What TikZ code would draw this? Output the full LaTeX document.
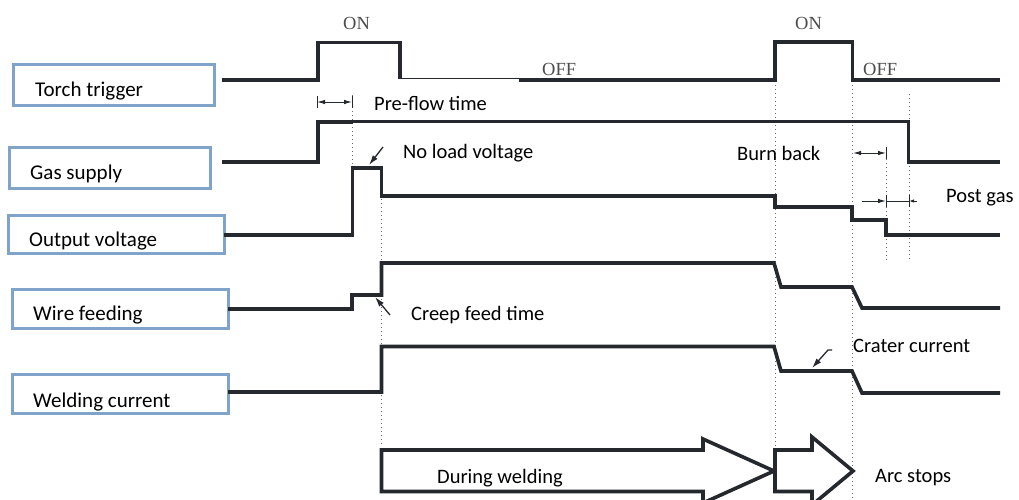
\documentclass[tikz,border=0pt]{standalone}
\usepackage{fontspec}
\setmainfont{Carlito}
\newfontfamily\onofffont{Liberation Serif}
\usetikzlibrary{arrows.meta}
\definecolor{sigc}{HTML}{25292E}
\definecolor{boxc}{HTML}{7FA3C9}
\definecolor{dotc}{HTML}{6A6A6A}
\begin{document}
\begin{tikzpicture}[x=1pt,y=-1pt,
  sig/.style={draw=sigc, line width=3.6pt, line join=miter},
  thinsig/.style={draw=sigc, line width=1.3pt},
  labbox/.style={draw=boxc, line width=2.6pt, anchor=north west, inner sep=0pt, rectangle},
  lbl/.style={anchor=base west, inner sep=0pt, font=\fontsize{21}{25}\selectfont},
  note/.style={anchor=base west, inner sep=0pt, font=\fontsize{20.5}{24}\selectfont},
  state/.style={anchor=base west, inner sep=0pt, font=\onofffont\fontsize{18.5}{22}\selectfont, text=black!70},
  guide/.style={draw=dotc, line width=0.8pt, dash pattern=on 1pt off 3pt},
  dimline/.style={draw=sigc, line width=1pt, {Latex[length=8pt,width=4.5pt]}-{Latex[length=8pt,width=4.5pt]}},
  tick/.style={draw=sigc, line width=1pt},
  pointer/.style={draw=sigc, line width=1.3pt, -{Latex[length=10pt,width=6pt]}},
  bigarrow/.style={draw=sigc, line width=3.6pt, fill=white, line join=miter}
]
\useasboundingbox (0,0) rectangle (1019,499);

% label boxes
\node[labbox, minimum width=201pt, minimum height=41pt] (bTorch) at (12,63) {};
\node[labbox, minimum width=201pt, minimum height=41pt] (bGas) at (8,146) {};
\node[labbox, minimum width=216pt, minimum height=38pt] (bOut) at (7,214) {};
\node[labbox, minimum width=216pt, minimum height=39pt] (bWire) at (11,288) {};
\node[labbox, minimum width=216pt, minimum height=39pt] (bWeld) at (11,373) {};
\node[lbl] (tTorch) at (35,96) {Torch trigger};
\node[lbl] (tGas) at (30,179) {Gas supply};
\node[lbl] (tOut) at (29,246) {Output voltage};
\node[lbl] (tWire) at (33,320) {Wire feeding};
\node[lbl] (tWeld) at (33,407) {Welding current};

% guide (dotted) lines
\coordinate (g1a) at (352,95);  \coordinate (g1b) at (352,164);
\coordinate (g2a) at (381.5,199); \coordinate (g2b) at (381.5,446);
\coordinate (g3a) at (775,85);  \coordinate (g3b) at (775,450);
\coordinate (g4a) at (852.5,85); \coordinate (g4b) at (852.5,499);
\coordinate (g5a) at (886,147); \coordinate (g5b) at (886,262);
\coordinate (g6a) at (909,94);  \coordinate (g6b) at (909,262);
\foreach \a/\b in {g1a/g1b,g2a/g2b,g3a/g3b,g4a/g4b,g5a/g5b,g6a/g6b}
  \draw[guide] (\a) -- (\b);

% torch trigger
\draw[sig] (222,80) -- (318,80) -- (318,42.5) -- (400,42.5) -- (400,79);
\draw[thinsig] (400,78.5) -- (520,78.5);
\draw[sig] (519,80) -- (775,80) -- (775,42) -- (852.5,42) -- (852.5,80) -- (1000,80);
% gas supply
\draw[sig] (222,162) -- (318,162) -- (318,122) -- (353,122);
\draw[draw=sigc, line width=2.4pt] (352,121.5) -- (520,121.5);
\draw[sig] (519,121.5) -- (908.5,121.5) -- (908.5,162) -- (1000,162);
% output voltage
\draw[sig] (224,235) -- (352.5,235) -- (352.5,168) -- (381.5,168) -- (381.5,196) -- (775,196) -- (775,207) -- (852,207) -- (852,220) -- (886,220) -- (886,235) -- (1000,235);
% wire feeding
\draw[sig] (228,309) -- (352,309) -- (352,295) -- (381.5,295) -- (381.5,263) -- (774,263) -- (781,287) -- (852,287) -- (862,308) -- (1000,308);
% welding current
\draw[sig] (228,392) -- (381.5,392) -- (381.5,346.5) -- (774,346.5) -- (781,371) -- (852,371) -- (862,393) -- (1000,393);

% state labels
\node[state] (on1) at (343,29) {ON};
\node[state] (off1) at (542,75) {OFF};
\node[state] (on2) at (795,29) {ON};
\node[state] (off2) at (863,75) {OFF};

% pre-flow dimension
\coordinate (pf1) at (317,102); \coordinate (pf2) at (352,102);
\draw[tick] (317,96) -- (317,108);
\draw[tick] (352,96) -- (352,108);
\draw[dimline] (pf1) -- (pf2);
\node[note] (tPre) at (374,110) {Pre-flow time};

% burn back dimension
\coordinate (bb1) at (853,153); \coordinate (bb2) at (886,153);
\draw[tick] (886,147) -- (886,159);
\draw[dimline] (bb1) -- (bb2);
\node[note] (tBurn) at (737,160) {Burn back};

% post gas dimension
\coordinate (pg1) at (862,201); \coordinate (pg2) at (886,201);
\coordinate (pg3) at (917,201); \coordinate (pg4) at (909,201);
\draw[tick] (886,195) -- (886,207);
\draw[tick] (909,195) -- (909,207);
\draw[draw=sigc, line width=1pt, -{Latex[length=8pt,width=4.5pt]}] (pg1) -- (pg2);
\draw[draw=sigc, line width=1pt] (pg2) -- (pg4);
\draw[draw=sigc, line width=1pt, -{Latex[length=5pt,width=3.5pt]}] (pg3) -- (pg4);
\node[note] (tPost) at (946,202) {Post gas};

% pointer arrows
\coordinate (nl1) at (383,147); \coordinate (nl2) at (369,165);
\draw[pointer] (nl1) -- (nl2);
\node[note] (tNoLoad) at (403,158) {No load voltage};

\coordinate (cf1) at (390,315); \coordinate (cf2) at (375,297);
\draw[pointer] (cf1) -- (cf2);
\node[note] (tCreep) at (411,320) {Creep feed time};

\coordinate (cc1) at (832,350); \coordinate (cc2) at (828,350); \coordinate (cc3) at (812,368);
\draw[pointer] (cc1) -- (cc2) -- (cc3);
\node[note] (tCrater) at (853,352) {Crater current};

% big arrows
\draw[bigarrow] (381.5,450) -- (703,450) -- (703,439) -- (774,471) -- (703,503) -- (703,491.5) -- (381.5,491.5) -- cycle;
\draw[bigarrow] (775,450) -- (812,450) -- (812,437) -- (853,471) -- (812,505) -- (812,491.5) -- (775,491.5) -- cycle;
\node[note] (tDuring) at (437,483) {During welding};
\node[note] (tArc) at (875,482) {Arc stops};
\end{tikzpicture}
\end{document}
